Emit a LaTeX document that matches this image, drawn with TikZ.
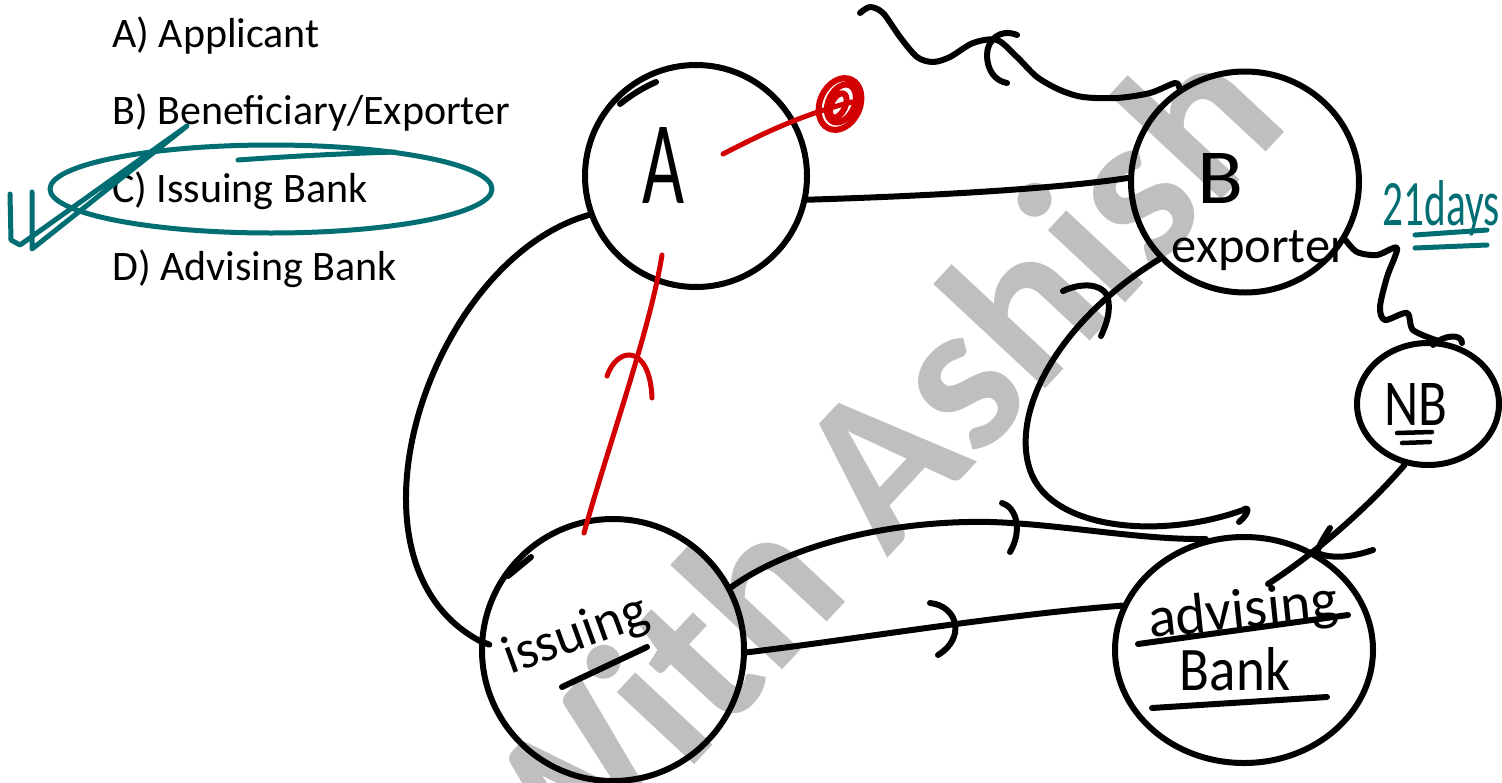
\documentclass[tikz,border=0pt]{standalone}
\usepackage{fontspec}
\setmainfont{Carlito}
\usepackage{graphicx}
\usetikzlibrary{shapes.geometric}
\definecolor{tealpen}{RGB}{0,110,115}
\definecolor{redpen}{RGB}{210,0,0}
\definecolor{wmgray}{RGB}{191,191,191}
\begin{document}
\begin{tikzpicture}[x=1pt,y=-1pt,
  ink/.style={line width=6pt, line cap=round, line join=round},
  blk/.style={ink, draw=black},
  redink/.style={ink, draw=redpen, line width=5pt},
  tealink/.style={ink, draw=tealpen, line width=5pt},
  bubble/.style={draw=black, line width=6pt, inner sep=0pt},
  hand/.style={inner sep=0pt, outer sep=0pt, text=black},
  listitem/.style={anchor=base west, inner sep=0pt, font=\fontsize{42}{42}\selectfont}]
\clip (0,0) rectangle (1502,782);
\fill[white] (0,0) rectangle (1502,782);

% watermark
\node[rotate=47, inner sep=0pt, text=wmgray, font=\bfseries\fontsize{218}{218}\selectfont] (wmk) at (866,470) {With Ashish};

% list
\node[listitem] (ia) at (112,47) {A) Applicant};
\node[listitem] (ib) at (112,124.5) {B) Beneficiary/Exporter};
\node[listitem] (ic) at (112,202) {C) Issuing Bank};
\node[listitem] (id) at (112,280) {D) Advising Bank};

% teal marks
\draw[tealink] (271,189) ellipse [x radius=221, y radius=44];
\draw[tealink] (395,152) .. controls (330,154) and (280,157) .. (238,160);
\draw[tealink] (10,194) -- (11,240) -- (20,245) -- (187,126) -- (32,249) -- (32,192);

% bubbles
\node[bubble, circle, minimum size=222pt] (A) at (696,176) {};
\node[bubble, ellipse, minimum width=228pt, minimum height=221pt] (B) at (1245,182) {};
\node[bubble, ellipse, minimum width=142pt, minimum height=122pt] (NB) at (1428,404) {};
\node[bubble, circle, minimum size=262pt] (IB) at (613,650) {};
\node[bubble, ellipse, minimum width=258pt, minimum height=226pt] (AB) at (1244,650) {};

% handwritten labels
\node[hand, anchor=base] (lA) at (663,203) {\resizebox{42pt}{76pt}{A}};
\node[hand, anchor=base] (lB) at (1220,203) {\resizebox{46pt}{50pt}{B}};
\node[hand, anchor=base] (lex) at (1260,262) {\resizebox{176pt}{!}{exporter}};
\node[hand, rotate=20] (lis) at (576,636) {\resizebox{150pt}{!}{issuing}};
\node[hand, anchor=base, rotate=6] (lad) at (1245,628) {\resizebox{190pt}{!}{advising}};
\node[hand, anchor=base] (lbk) at (1235,690) {\resizebox{110pt}{43pt}{Bank}};
\node[hand, anchor=base] (lnb) at (1416,425) {\resizebox{63pt}{42pt}{NB}};
\node[hand, anchor=base, text=tealpen] (l21) at (1441,225) {\resizebox{117pt}{45pt}{21days}};

% underlines
\draw[blk] (562,687) -- (647,647);
\draw[blk] (1138,644) -- (1348,615);
\draw[blk] (1152,708) -- (1327,697);
\draw[blk, line width=4.5pt] (1397,433) -- (1432,432) (1402,443) -- (1430,442);
\draw[tealink] (1415,235) -- (1487,230) (1415,248) -- (1487,245);

% small extra strokes on bubbles
\draw[blk] (620,104) .. controls (630,96) and (642,88) .. (656,82);
\draw[blk] (508,576) -- (531,557);
\draw[blk] (1433,345) .. controls (1445,334) and (1462,334) .. (1462,343);

% connectors
\draw[blk] (A.-12) .. controls (900,197) and (1050,190) .. (B.178);
\draw[blk] (A.200) .. controls (430,260) and (330,560) .. (IB.176) -- ++(10,4);
\draw[blk] (IB.28) .. controls (790,545) and (890,520) .. (990,522) .. controls (1060,524) and (1140,540) .. (AB.109);
\draw[blk] (1002,503) .. controls (1016,507) and (1023,530) .. (1010,552);
\draw[blk] (IB.-1) .. controls (850,640) and (1000,615) .. (AB.160);
\draw[blk] (930,603) .. controls (958,606) and (966,638) .. (938,655);

\coordinate (cend) at (1243,510);
\draw[blk] (B.222) .. controls (1060,320) and (1010,410) .. (1030,470) .. controls (1050,530) and (1160,540) .. (cend) .. controls (1250,505) and (1249,514) .. (1239,522);
\draw[blk] (1063,291) .. controls (1080,283) and (1100,283) .. (1107,295) .. controls (1112,310) and (1106,325) .. (1101,336);

\coordinate (nbend) at (1268,584);
\draw[blk] (NB.249) .. controls (1370,505) and (1320,550) .. (nbend);
\draw[blk] (1330,528) .. controls (1322,540) and (1318,548) .. (1317,553) .. controls (1335,560) and (1355,556) .. (1373,550);

\draw[blk] plot[smooth, tension=0.5] coordinates {(B.-30) (1357,252) (1377,255) (1397,248) (1387,277) (1380,307) (1385,320) (1407,313) (1413,330) (NB.82)};

\coordinate (tw) at (860,13);
\draw[blk] plot[smooth, tension=0.5] coordinates {(B.125) (1175,83) (1150,93) (1117,98) (1083,97) (1060,90) (1037,77) (1017,57) (997,40) (973,43) (950,57) (933,62) (917,57) (900,37) (883,13) (870,7) (tw)};
\draw[blk] (1017,35) .. controls (1000,28) and (987,40) .. (987,55) .. controls (987,70) and (995,81) .. (1007,83);

% red marks
\coordinate (rs) at (662,255);
\coordinate (re) at (584,533);
\draw[redink] (rs) .. controls (650,330) and (610,440) .. (re);
\draw[redink] (607,376) .. controls (618,345) and (650,345) .. (652,398);
\draw[redink] (723,154) .. controls (760,135) and (800,115) .. (852,102);
\draw[redink, line width=6pt, rotate around={-25:(840,104)}] (840,104) ellipse [x radius=20, y radius=27]
  (841,103) ellipse [x radius=13, y radius=20] (839,106) ellipse [x radius=7, y radius=13];
\end{tikzpicture}
\end{document}
